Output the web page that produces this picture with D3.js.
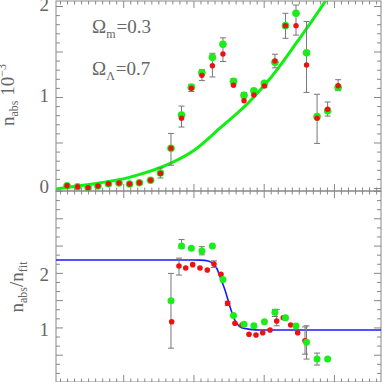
<!DOCTYPE html>
<html>
<head>
<meta charset="utf-8">
<script src="https://cdn.jsdelivr.net/npm/d3@7"></script>
<style>
    body { margin: 0; background: #fff; }
    svg { display: block; }
    text { font-family: "Liberation Serif", serif; fill: #666; }
</style>
</head>
<body>
<svg id="chart" width="382" height="382"></svg>
<script>
// Posições x dos pontos (painel superior)
var topX = [0.20, 0.35, 0.50, 0.64, 0.79, 0.94, 1.09, 1.23, 1.39, 1.53, 1.68, 1.83, 1.97, 2.12,
    2.27, 2.42, 2.57, 2.72, 2.86, 3.01, 3.16, 3.31, 3.46, 3.61, 3.76, 3.91, 4.06];
var topGreen = [0.025, 0.014, 0.003, 0.022, 0.047, 0.055, 0.044, 0.058, 0.085, 0.165, 0.436, 0.802, 1.107, 1.267,
    1.436, 1.579, 1.173, 1.019, 1.069, 1.151, 1.381, 1.784, 1.920, 1.487, 0.784, 0.849, 1.107];
var topRed = [0.025, 0.014, 0.003, 0.022, 0.047, 0.055, 0.044, 0.058, 0.085, 0.160, 0.436, 0.766, 1.096, 1.238,
    1.344, 1.473, 1.129, 0.959, 1.022, 1.121, 1.396, 1.784, 1.784, 1.352, 0.766, 0.865, 1.124];
var topErrLo = [null, null, null, null, null, null, null, null, null, 0.11, 0.25, 0.67, 1.06, 1.18,
    1.22, 1.39, 1.14, 0.99, 1.02, 1.11, 1.32, 1.645, 1.68, 1.05, 0.49, 0.79, 1.07];
var topErrHi = [null, null, null, null, null, null, null, null, null, 0.22, 0.60, 0.90, 1.14, 1.30,
    1.48, 1.65, 1.20, 1.05, 1.07, 1.17, 1.47, 1.92, 2.01, 1.83, 1.03, 0.945, 1.19];

// Curva verde (ajuste)
var fitX = [0.043, 0.43, 1.1, 1.67, 2.0, 2.38, 2.8, 3.0, 3.2, 3.47, 3.7, 3.9, 4.0];
var fitY = [-0.01, 0.03, 0.12, 0.27, 0.41, 0.66, 0.95, 1.12, 1.31, 1.60, 1.85, 2.08, 2.20];

// Painel inferior: razão n_abs / n_fit
var botGreenX = [1.68, 1.83, 1.97, 2.12, 2.27, 2.42, 2.57, 2.72, 2.86, 3.01, 3.16, 3.31, 3.46, 3.61, 3.76, 3.91];
var botGreen = [1.49, 2.49, 2.45, 2.40, 2.49, 1.88, 1.22, 1.06, 1.03, 1.105, 1.277, 1.178, 1.026, 0.727, 0.42, 0.42];
var botGreenLo = [0.62, 2.45, null, 2.33, null, null, null, null, null, null, 1.20, null, null, 0.42, 0.31, null];
var botGreenHi = [1.99, 2.61, null, 2.48, null, null, null, null, null, null, 1.33, null, null, 1.03, 0.53, null];

var botRedX = [1.690, 1.794, 1.890, 1.989, 2.093, 2.197, 2.292, 2.392, 2.487, 2.591, 2.691, 2.791, 2.890, 2.986,
    3.090, 3.185, 3.279, 3.384, 3.484, 3.588];
var botRed = [1.105, 2.126, 2.089, 2.150, 2.089, 2.052, 2.162, 1.974, 1.442, 1.076, 1.045, 0.874, 0.861, 0.903,
    0.953, 1.118, 1.178, 1.045, 0.903, 0.757];
var botRedLo = [null, 1.96, null, null, null, null, 2.10, null, 1.40, null, null, null, null, null,
    null, 1.03, null, null, null, 0.51];
var botRedHi = [null, 2.27, null, null, null, null, 2.22, null, 1.48, null, null, null, null, null,
    null, 1.33, null, null, null, 1.01];

// Curva azul
var stepX = [0.043, 2.0, 2.1, 2.211, 2.331, 2.378, 2.449, 2.52, 2.567, 2.616, 2.687, 2.805, 2.947, 4.67];
var stepY = [2.236, 2.236, 2.234, 2.217, 2.084, 1.93, 1.686, 1.38, 1.197, 1.075, 0.995, 0.965, 0.953, 0.953];

var topTicks = [0, 1, 2];
var botTicks = [1, 2];

var svg = d3.select('#chart'),
    left = 56,
    right = 381,
    grey = '#888';

var x = d3.scaleLinear().domain([0.043, 4.67]).range([left, right]);
var yTop = d3.scaleLinear().domain([-0.033, 2.055]).range([191, 1]);
var yBot = d3.scaleLinear().domain([0, 3.5]).range([382, 191]);

// Recortes dos painéis
var defs = svg.append('defs');
defs.append('clipPath').attr('id', 'clipTop').append('rect')
    .attr('x', left).attr('y', 1).attr('width', right - left).attr('height', 190);
defs.append('clipPath').attr('id', 'clipBot').append('rect')
    .attr('x', left).attr('y', 191).attr('width', right - left).attr('height', 191);

function frame(y, ticks, minorStep, labelShift) {
    var r0 = y.range()[1], r1 = y.range()[0];
    var g = svg.append('g');
    var xMinor = d3.range(0.1, 4.67, 0.1).filter(function (v) { return Math.abs(v - Math.round(v)) > 0.01; });
    var xMajor = [1, 2, 3, 4];
    var yDom = y.domain();
    var yMajor = d3.range(Math.ceil(yDom[0] * 2) / 2, yDom[1] + 1e-6, 0.5);
    var yMinor = d3.range(Math.ceil(yDom[0] / minorStep) * minorStep, yDom[1], minorStep)
        .filter(function (v) { return Math.abs(v * 2 - Math.round(v * 2)) > 0.01; });

    function ax(axis, tx, ty) {
        var a = g.append('g').attr('transform', 'translate(' + tx + ',' + ty + ')').call(axis);
        a.select('.domain').remove();
        a.selectAll('line').attr('stroke', grey);
        return a;
    }
    ax(d3.axisBottom(x).tickValues(xMinor).tickSize(-3.5).tickFormat(''), 0, r1);
    ax(d3.axisBottom(x).tickValues(xMajor).tickSize(-7).tickFormat(''), 0, r1);
    ax(d3.axisTop(x).tickValues(xMinor).tickSize(-3.5).tickFormat(''), 0, r0);
    ax(d3.axisTop(x).tickValues(xMajor).tickSize(-7).tickFormat(''), 0, r0);
    ax(d3.axisLeft(y).tickValues(yMinor).tickSize(-4).tickFormat(''), left, 0);
    ax(d3.axisRight(y).tickValues(yMinor).tickSize(-4).tickFormat(''), right, 0);
    ax(d3.axisRight(y).tickValues(yMajor).tickSize(-7).tickFormat(''), right, 0);
    var lab = ax(d3.axisLeft(y).tickValues(yMajor).tickSize(-7).tickPadding(7)
        .tickFormat(function (d) { return ticks.indexOf(d) >= 0 ? d : ''; }), left, 0);
    lab.selectAll('text').attr('font-size', 19).attr('fill', '#666')
        .attr('font-family', '"Liberation Serif", serif')
        .attr('y', labelShift);

    g.append('rect').attr('x', left).attr('y', r0).attr('width', right - left).attr('height', r1 - r0)
        .attr('fill', 'none').attr('stroke', grey).attr('stroke-width', 1);
}

function errorBars(clip, xs, los, his, y) {
    var idx = d3.range(xs.length).filter(function (i) { return los[i] !== null; });
    var g = svg.append('g').attr('clip-path', 'url(#' + clip + ')')
        .attr('stroke', '#777').attr('stroke-width', 1);
    g.selectAll('.bar').data(idx).enter().append('line')
        .attr('x1', function (i) { return x(xs[i]); }).attr('x2', function (i) { return x(xs[i]); })
        .attr('y1', function (i) { return y(los[i]); }).attr('y2', function (i) { return y(his[i]); });
    [los, his].forEach(function (arr) {
        g.selectAll(null).data(idx).enter().append('line')
            .attr('x1', function (i) { return x(xs[i]) - 3; }).attr('x2', function (i) { return x(xs[i]) + 3; })
            .attr('y1', function (i) { return y(arr[i]); }).attr('y2', function (i) { return y(arr[i]); });
    });
}

function dots(clip, xs, ys, y, r, color) {
    svg.append('g').attr('clip-path', 'url(#' + clip + ')')
        .selectAll('circle').data(ys).enter().append('circle')
        .attr('cx', function (d, i) { return x(xs[i]); })
        .attr('cy', function (d) { return y(d); })
        .attr('r', r).attr('fill', color);
}

// Painel superior
frame(yTop, topTicks, 0.1, -2);
svg.append('path').attr('clip-path', 'url(#clipTop)')
    .datum(fitX)
    .attr('fill', 'none').attr('stroke', '#11ee11').attr('stroke-width', 3)
    .attr('d', d3.line().curve(d3.curveMonotoneX)
        .x(function (d) { return x(d); })
        .y(function (d, i) { return yTop(fitY[i]); }));
errorBars('clipTop', topX, topErrLo, topErrHi, yTop);
dots('clipTop', topX, topGreen, yTop, 3.8, '#1aee1a');
dots('clipTop', topX, topRed, yTop, 2.7, '#ee1111');

// Painel inferior
frame(yBot, botTicks, 1 / 6, 2);
svg.append('path').attr('clip-path', 'url(#clipBot)')
    .datum(stepX)
    .attr('fill', 'none').attr('stroke', '#1a1aff').attr('stroke-width', 1.6)
    .attr('d', d3.line().curve(d3.curveMonotoneX)
        .x(function (d) { return x(d); })
        .y(function (d, i) { return yBot(stepY[i]); }));
errorBars('clipBot', botGreenX, botGreenLo, botGreenHi, yBot);
errorBars('clipBot', botRedX, botRedLo, botRedHi, yBot);
dots('clipBot', botRedX, botRed, yBot, 2.8, '#ee1111');
dots('clipBot', botGreenX, botGreen, yBot, 3.5, '#1aee1a');

// Textos
function omega(yPos, sub, value) {
    var t = svg.append('text').attr('x', 92).attr('y', yPos).attr('font-size', 19);
    t.append('tspan').text('\u03A9');
    t.append('tspan').attr('font-size', 12).attr('dy', 5).text(sub);
    t.append('tspan').attr('dy', -5).attr('dx', 1).text('=' + value);
}
omega(33, 'm', '0.3');
omega(75, '\u039B', '0.7');

var yl1 = svg.append('text').attr('transform', 'translate(14,95) rotate(-90)')
    .attr('text-anchor', 'middle').attr('font-size', 19);
yl1.append('tspan').text('n');
yl1.append('tspan').attr('font-size', 12).attr('dy', 4).text('abs');
yl1.append('tspan').attr('dy', -4).text(' 10');
yl1.append('tspan').attr('font-size', 12).attr('dy', -8).text('\u22123');

var yl2 = svg.append('text').attr('transform', 'translate(23,287) rotate(-90)')
    .attr('text-anchor', 'middle').attr('font-size', 19);
yl2.append('tspan').text('n');
yl2.append('tspan').attr('font-size', 12).attr('dy', 4).text('abs');
yl2.append('tspan').attr('dy', -4).text('/n');
yl2.append('tspan').attr('font-size', 12).attr('dy', 4).text('fit');
</script>
</body>
</html>
